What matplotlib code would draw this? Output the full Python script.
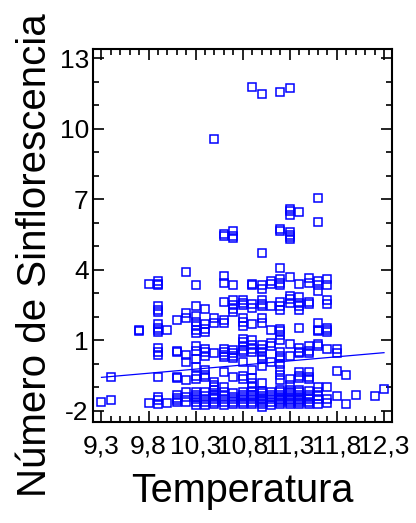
import numpy as np
import matplotlib
matplotlib.use("Agg")
import matplotlib.pyplot as plt
from matplotlib.ticker import MultipleLocator, FixedLocator


# readings per temperature column (y values of the squares)
temp_cols = [9.3, 9.4, 9.7, 9.8, 9.9, 10.0, 10.1, 10.2, 10.3, 10.4, 10.5, 10.6, 10.7,
             10.8, 10.9, 11.0, 11.1, 11.2, 11.3, 11.4, 11.5, 11.6, 11.7, 11.8, 11.9,
             12.0, 12.2, 12.3]
sinflo_cols = [
    [-1.6],
    [-1.55, -0.55],
    [1.42, 1.45],
    [-1.65, 3.4],
    [3.55, 3.4, 3.35, 2.45, 2.3, 2.2, 1.7, 1.55, 1.45, 1.35, 0.7, 0.5, 0.4, -0.55, -1.4, -1.55, -1.7],
    [1.45, -1.65],
    [1.85, 0.55, 0.5, -0.55, -0.6, -1.3, -1.45, -1.55, -1.6],
    [3.9, 2.15, 1.95, 0.4, 0.1, -0.7, -1.2, -1.4, -1.6],
    [3.35, 2.45, 2.05, 1.8, 1.6, 1.45, 1.3, 0.75, 0.55, 0.2, -0.15, -0.5, -0.65,
     -1.2, -1.3, -1.4, -1.5, -1.6, -1.75],
    [2.35, 1.7, 1.5, 1.35, 0.65, 0.5, 0.35, -0.25, -0.45, -0.55, -1.2, -1.35, -1.5, -1.6, -1.75],
    [9.55, 1.95, 1.75, 0.45, -0.75, -0.9, -1.0, -1.1, -1.3, -1.4, -1.5, -1.6, -1.7],
    [5.55, 5.45, 3.75, 3.45, 2.65, 1.85, 1.75, 0.65, 0.5, 0.4, 0.3, -0.35,
     -1.0, -1.2, -1.35, -1.5, -1.6, -1.75],
    [5.65, 5.45, 5.35, 3.35, 2.7, 2.5, 2.35, 2.2, 0.6, 0.45, 0.35, 0.25, -0.55,
     -1.25, -1.4, -1.5, -1.6, -1.7],
    [2.7, 2.6, 2.5, 1.95, 1.8, 1.6, 1.05, 0.95, 0.75, 0.6, 0.5, 0.1, -0.5, -0.65,
     -1.2, -1.3, -1.4, -1.5, -1.6, -1.7],
    [11.8, 3.4, 3.35, 2.55, 2.4, 1.7, 1.0, 0.8, 0.65, 0.5, -0.25, -0.6, -0.8, -1.0,
     -1.2, -1.3, -1.4, -1.5, -1.6, -1.7],
    [11.5, 4.7, 3.35, 3.2, 2.7, 2.55, 2.45, 1.95, 1.75, 0.8, 0.65, 0.5, 0.35, 0.2, -0.1, -0.8,
     -1.15, -1.25, -1.35, -1.45, -1.55, -1.6, -1.7, -1.85],
    [3.55, 3.4, 2.45, 1.45, 0.9, 0.75, 0.1, -1.2, -1.3, -1.4, -1.5, -1.6, -1.75],
    [11.55, 5.75, 5.65, 4.1, 3.6, 3.45, 3.35, 2.65, 2.45, 2.3, 1.5, 1.4, 1.25, 1.0,
     0.5, 0.35, 0.25, 0.0, -0.25, -0.45, -0.7,
     -1.1, -1.2, -1.3, -1.4, -1.5, -1.55, -1.6, -1.7],
    [11.75, 6.6, 6.5, 6.35, 5.6, 5.5, 5.4, 5.3, 3.7, 2.9, 2.75, 2.6, 0.85, 0.35, -0.65, -0.9,
     -1.1, -1.2, -1.3, -1.4, -1.5, -1.55, -1.6, -1.7],
    [6.45, 3.4, 2.85, 2.6, 2.45, 2.3, 1.55, 0.7, 0.5, 0.45, -0.35, -0.5, -0.6,
     -1.1, -1.2, -1.3, -1.4, -1.5, -1.55, -1.6, -1.7],
    [3.65, 3.45, 2.65, 2.55, 0.75, 0.55, 0.45, -0.35, -0.55, -0.65,
     -1.15, -1.3, -1.4, -1.5, -1.6, -1.7],
    [7.05, 6.05, 3.55, 3.35, 3.1, 1.75, 1.45, 1.4, 0.85, 0.75, -1.0, -1.2, -1.35, -1.5, -1.7],
    [3.6, 3.35, 2.7, 2.55, 1.55, 1.45, 1.35, 0.65, -1.0, -1.5, -1.65],
    [0.65, 0.45, -0.3, -1.35],
    [-0.45, -1.7],
    [-1.3],
    [-1.35],
    [-1.05],
]

# fitted line
line_x = [9.3, 12.3]
line_y = [-0.57, 0.48]

x_ticks = [9.3, 9.8, 10.3, 10.8, 11.3, 11.8, 12.3]
y_ticks = [-2, 1, 4, 7, 10, 13]


def main():
    xs = []
    ys = []
    for t, vals in zip(temp_cols, sinflo_cols):
        for v in vals:
            xs.append(t)
            ys.append(v)

    plt.rcParams['font.family'] = ['Liberation Sans', 'DejaVu Sans']

    fig = plt.figure(figsize=(4.16, 5.23), dpi=100)
    ax = fig.add_axes([0.2236, 0.1931, 0.7187, 0.7132])

    ax.plot(xs, ys, 's', markersize=6.3, markerfacecolor='none',
            markeredgecolor='#0000ff', markeredgewidth=1.1)
    ax.plot(line_x, line_y, '-', color='#0000ff', linewidth=0.9)

    ax.set_xlim(9.21, 12.385)
    ax.set_ylim(-2.47, 13.4)

    ax.xaxis.set_major_locator(FixedLocator(x_ticks))
    ax.xaxis.set_minor_locator(MultipleLocator(0.1))
    ax.yaxis.set_major_locator(FixedLocator(y_ticks))
    ax.yaxis.set_minor_locator(MultipleLocator(1))
    ax.set_xticklabels([f"{t:.1f}".replace('.', ',') for t in x_ticks])
    ax.set_yticklabels([str(t) for t in y_ticks])

    ax.tick_params(which='both', direction='in', top=True, right=True,
                   width=1.2, labelsize=19, colors='black')
    ax.tick_params(which='major', length=8)
    ax.tick_params(axis='x', which='major', pad=9)
    ax.tick_params(axis='y', which='major', pad=3)
    ax.tick_params(which='minor', length=4)
    for s in ax.spines.values():
        s.set_linewidth(1.5)

    ax.set_xlabel("Temperatura", fontsize=28.5, labelpad=10)
    ax.set_ylabel("Número de Sinflorescencia", fontsize=29)
    ax.yaxis.set_label_coords(-0.13, 0.448)

    plt.savefig("out.png", dpi=100)


if __name__ == "__main__":
    main()
